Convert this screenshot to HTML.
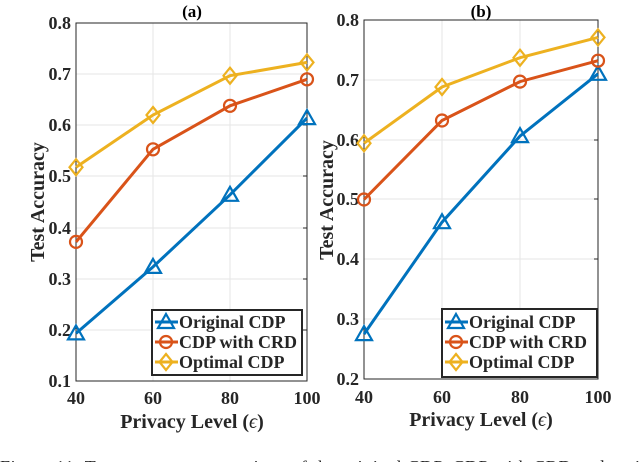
<!DOCTYPE html>
<html><head><style>body{margin:0;background:#fff;overflow:hidden}svg{display:block}</style></head>
<body>
<svg width="640" height="462" xmlns="http://www.w3.org/2000/svg" font-family="Liberation Serif, serif" font-weight="bold">
<defs>
<g id="tri"><path d="M0,-8 L8,6 L-8,6 Z" fill="none" stroke="#0072BD" stroke-width="2.2"/></g>
<g id="cir"><circle r="6" fill="none" stroke="#D95319" stroke-width="2.2"/></g>
<g id="dia"><path d="M0,-8 L6.5,0 L0,8 L-6.5,0 Z" fill="none" stroke="#EDB120" stroke-width="2.2"/></g>
</defs>
<!-- Left plot -->
<g stroke="#e6e6e6" stroke-width="1">
<line x1="153" y1="23" x2="153" y2="381"/><line x1="230" y1="23" x2="230" y2="381"/>
<line x1="76" y1="74" x2="307" y2="74"/><line x1="76" y1="125" x2="307" y2="125"/><line x1="76" y1="176" x2="307" y2="176"/><line x1="76" y1="228" x2="307" y2="228"/><line x1="76" y1="279" x2="307" y2="279"/><line x1="76" y1="330" x2="307" y2="330"/>
</g>
<rect x="76" y="23" width="231" height="358" fill="none" stroke="#262626" stroke-width="1"/>
<g stroke="#262626"><line x1="307" y1="74" x2="303" y2="74"/><line x1="307" y1="125" x2="303" y2="125"/><line x1="307" y1="176" x2="303" y2="176"/><line x1="307" y1="228" x2="303" y2="228"/><line x1="307" y1="279" x2="303" y2="279"/><line x1="307" y1="330" x2="303" y2="330"/></g>
<g font-size="18" fill="#262626" text-anchor="end">
<text x="71" y="29">0.8</text><text x="71" y="80">0.7</text><text x="71" y="131">0.6</text><text x="71" y="182">0.5</text><text x="71" y="234">0.4</text><text x="71" y="285">0.3</text><text x="71" y="336">0.2</text><text x="71" y="387">0.1</text>
</g>
<g font-size="18" fill="#262626" text-anchor="middle">
<text x="76" y="404">40</text><text x="153" y="404">60</text><text x="230" y="404">80</text><text x="307" y="404">100</text>
<text x="192" y="428" font-size="20">Privacy Level (<tspan font-style="italic" font-weight="normal">ϵ</tspan>)</text>
<text x="192" y="17" font-size="17" fill="#000">(a)</text>
<text transform="translate(44,202) rotate(-90)" font-size="20">Test Accuracy</text>
</g>
<polyline points="76,333.4 153,266.9 230,194.8 307,118.1" fill="none" stroke="#0072BD" stroke-width="3"/>
<polyline points="76,241.9 153,149.3 230,105.8 307,79.3" fill="none" stroke="#D95319" stroke-width="3"/>
<polyline points="76,167.2 153,115 230,75.7 307,62.4" fill="none" stroke="#EDB120" stroke-width="3"/>
<use href="#tri" x="76" y="333.4"/><use href="#tri" x="153" y="266.9"/><use href="#tri" x="230" y="194.8"/><use href="#tri" x="307" y="118.1"/>
<use href="#cir" x="76" y="241.9"/><use href="#cir" x="153" y="149.3"/><use href="#cir" x="230" y="105.8"/><use href="#cir" x="307" y="79.3"/>
<use href="#dia" x="76" y="167.2"/><use href="#dia" x="153" y="115"/><use href="#dia" x="230" y="75.7"/><use href="#dia" x="307" y="62.4"/>
<rect x="152" y="310" width="150" height="65" fill="#fff" stroke="#262626" stroke-width="2"/>
<line x1="155" y1="322" x2="178" y2="322" stroke="#0072BD" stroke-width="3"/><use href="#tri" x="166" y="322"/>
<line x1="155" y1="342" x2="178" y2="342" stroke="#D95319" stroke-width="3"/><use href="#cir" x="166" y="342"/>
<line x1="155" y1="362" x2="178" y2="362" stroke="#EDB120" stroke-width="3"/><use href="#dia" x="166" y="362"/>
<g font-size="18" fill="#262626"><text x="179" y="328">Original CDP</text><text x="179" y="348">CDP with CRD</text><text x="179" y="368">Optimal CDP</text></g>

<!-- Right plot -->
<g stroke="#e6e6e6" stroke-width="1">
<line x1="442" y1="20" x2="442" y2="379"/><line x1="520" y1="20" x2="520" y2="379"/>
<line x1="364" y1="80" x2="598" y2="80"/><line x1="364" y1="140" x2="598" y2="140"/><line x1="364" y1="199" x2="598" y2="199"/><line x1="364" y1="259" x2="598" y2="259"/><line x1="364" y1="319" x2="598" y2="319"/>
</g>
<rect x="364" y="20" width="234" height="359" fill="none" stroke="#262626" stroke-width="1"/>
<g stroke="#262626"><line x1="598" y1="80" x2="594" y2="80"/><line x1="598" y1="140" x2="594" y2="140"/><line x1="598" y1="199" x2="594" y2="199"/><line x1="598" y1="259" x2="594" y2="259"/><line x1="598" y1="319" x2="594" y2="319"/></g>
<g font-size="18" fill="#262626" text-anchor="end">
<text x="359" y="26">0.8</text><text x="359" y="86">0.7</text><text x="359" y="146">0.6</text><text x="359" y="205">0.5</text><text x="359" y="265">0.4</text><text x="359" y="325">0.3</text><text x="359" y="385">0.2</text>
</g>
<g font-size="18" fill="#262626" text-anchor="middle">
<text x="364" y="403">40</text><text x="442" y="403">60</text><text x="520" y="403">80</text><text x="598" y="403">100</text>
<text x="481" y="426" font-size="20">Privacy Level (<tspan font-style="italic" font-weight="normal">ϵ</tspan>)</text>
<text x="481" y="17" font-size="17" fill="#000">(b)</text>
<text transform="translate(333,200) rotate(-90)" font-size="20">Test Accuracy</text>
</g>
<polyline points="364,334.1 442,222.2 520,136.1 598,73.8" fill="none" stroke="#0072BD" stroke-width="3"/>
<polyline points="364,199.5 442,120.5 520,81.6 598,60.7" fill="none" stroke="#D95319" stroke-width="3"/>
<polyline points="364,143.2 442,87 520,57.7 598,37.4" fill="none" stroke="#EDB120" stroke-width="3"/>
<use href="#tri" x="364" y="334.1"/><use href="#tri" x="442" y="222.2"/><use href="#tri" x="520" y="136.1"/><use href="#tri" x="598" y="73.8"/>
<use href="#cir" x="364" y="199.5"/><use href="#cir" x="442" y="120.5"/><use href="#cir" x="520" y="81.6"/><use href="#cir" x="598" y="60.7"/>
<use href="#dia" x="364" y="143.2"/><use href="#dia" x="442" y="87"/><use href="#dia" x="520" y="57.7"/><use href="#dia" x="598" y="37.4"/>
<rect x="442" y="309" width="155" height="68" fill="#fff" stroke="#262626" stroke-width="2"/>
<line x1="445" y1="322" x2="468" y2="322" stroke="#0072BD" stroke-width="3"/><use href="#tri" x="456" y="322"/>
<line x1="445" y1="342" x2="468" y2="342" stroke="#D95319" stroke-width="3"/><use href="#cir" x="456" y="342"/>
<line x1="445" y1="362" x2="468" y2="362" stroke="#EDB120" stroke-width="3"/><use href="#dia" x="456" y="362"/>
<g font-size="18" fill="#262626"><text x="469" y="328">Original CDP</text><text x="469" y="348">CDP with CRD</text><text x="469" y="368">Optimal CDP</text></g>

<text x="0" y="473" font-size="18" font-weight="normal" fill="#222" textLength="640">Figure 11:   Test accuracy comparison of the original CDP, CDP with CRD and opti</text>
</svg>
</body></html>
